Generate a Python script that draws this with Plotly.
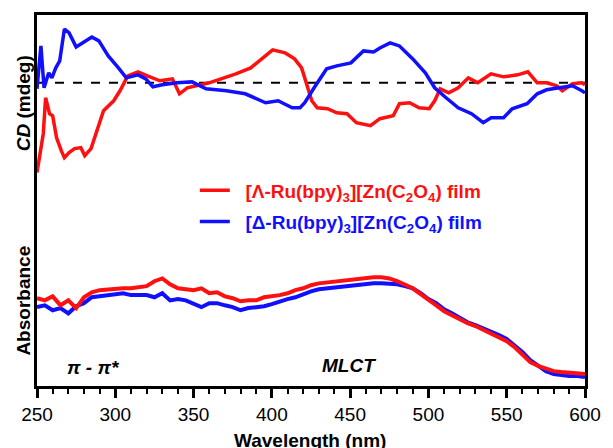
import plotly.graph_objects as go

# ---------------- data ----------------
# CD spectra (arbitrary mdeg scale, positive up)
cd_lambda_wl = [250, 252, 254, 255.5, 258, 260, 262.5, 265.5, 267.5, 270.5,
                274, 278, 280.5, 284.5, 287.5, 292.5, 299, 303, 308, 314.5,
                320.5, 328.5, 336.5, 341, 346, 352, 360, 367.5, 377, 386.5,
                394.5, 400.5, 408.5, 414.5, 419, 422, 425.5, 429, 435.5, 441.5,
                448, 454, 463, 469, 477.5, 481.5, 488, 494, 500.5, 504,
                507.5, 513, 519, 525.5, 531.5, 540, 548, 557, 563.5, 569.5,
                575.5, 582, 585.5, 592, 598, 600]
cd_lambda = [-9.0, -6.8, -5.1, -1.5, -3.1, -3.3, -5.5, -6.8, -7.5, -7.0,
             -6.6, -6.5, -7.3, -6.6, -5.1, -2.8, -1.8, -0.8, 0.7, 1.1,
             0.7, 0.2, 0.4, -1.1, -0.5, -0.3, 0.0, 0.4, 0.9, 1.5,
             2.5, 3.3, 3.0, 2.4, 1.5, -0.1, -1.8, -2.5, -2.6, -3.0,
             -3.1, -4.0, -4.3, -3.6, -3.3, -2.1, -2.0, -2.5, -2.6, -1.8,
             -0.6, -1.0, -0.5, 0.5, 0.0, 0.9, 0.6, 0.8, 1.1, 0.0,
             0.0, -0.3, -0.8, -0.1, 0.0, -0.2]

cd_delta_wl = [250, 252.5, 254.5, 257.5, 259.5, 262, 264.5, 267.5, 270.5, 275,
               279, 285, 289.5, 295.5, 302, 307, 314.5, 319.5, 324, 330,
               339.5, 349, 358, 371, 383, 396, 404, 413, 418, 421,
               427, 435, 441.5, 450.5, 458.5, 465, 469, 475.5, 481.5, 490,
               498, 504, 510.5, 519, 527.5, 535, 540, 548, 553.5, 563,
               569.5, 575.5, 583.5, 592, 598, 600]
cd_delta = [-0.6, 3.7, -0.5, 1.0, 0.5, 1.5, 2.2, 5.4, 5.0, 3.6,
            4.0, 4.6, 4.2, 2.7, 1.5, 0.5, 0.8, 0.4, -0.4, -0.2,
            0.0, 0.1, -0.6, -0.8, -1.1, -2.0, -1.8, -2.5, -2.5, -2.0,
            -0.5, 1.4, 1.7, 2.0, 3.2, 3.1, 3.5, 4.0, 3.7, 2.4,
            1.0, -0.5, -1.4, -2.5, -3.1, -4.0, -3.5, -3.5, -2.6, -2.1,
            -1.1, -0.7, -0.5, -0.3, -0.8, -1.0]

# Absorbance spectra (arbitrary units)
abs_wl = list(range(250, 601, 5))
abs_lambda = [0.284, 0.277, 0.290, 0.261, 0.277, 0.252, 0.287, 0.303, 0.310, 0.313,
              0.316, 0.316, 0.316, 0.319, 0.323, 0.339, 0.348, 0.329, 0.316, 0.313,
              0.310, 0.316, 0.300, 0.303, 0.290, 0.284, 0.274, 0.277, 0.277, 0.287,
              0.290, 0.294, 0.300, 0.310, 0.316, 0.326, 0.332, 0.335, 0.339, 0.339,
              0.342, 0.345, 0.348, 0.352, 0.352, 0.348, 0.339, 0.329, 0.316, 0.297,
              0.277, 0.261, 0.242, 0.229, 0.213, 0.203, 0.194, 0.181, 0.171, 0.158,
              0.145, 0.126, 0.100, 0.077, 0.065, 0.055, 0.048, 0.045, 0.042, 0.042,
              0.039]
abs_delta = [0.255, 0.261, 0.245, 0.252, 0.235, 0.258, 0.268, 0.287, 0.290, 0.294,
             0.297, 0.300, 0.294, 0.294, 0.294, 0.287, 0.300, 0.277, 0.281, 0.277,
             0.265, 0.255, 0.268, 0.268, 0.261, 0.255, 0.245, 0.252, 0.255, 0.258,
             0.265, 0.274, 0.281, 0.287, 0.297, 0.306, 0.313, 0.316, 0.319, 0.319,
             0.323, 0.326, 0.329, 0.332, 0.332, 0.332, 0.329, 0.323, 0.316, 0.300,
             0.281, 0.268, 0.248, 0.235, 0.219, 0.206, 0.197, 0.187, 0.177, 0.165,
             0.152, 0.132, 0.110, 0.084, 0.065, 0.048, 0.039, 0.035, 0.032, 0.032,
             0.029]

x_ticks = [250, 300, 350, 400, 450, 500, 550, 600]

name_lambda = "[Λ-Ru(bpy)<sub>3</sub>][Zn(C<sub>2</sub>O<sub>4</sub>) film"
name_delta = "[Δ-Ru(bpy)<sub>3</sub>][Zn(C<sub>2</sub>O<sub>4</sub>) film"

RED = "#ff1010"
BLUE = "#1010ff"
FONT = "Liberation Sans, Arial, Helvetica, sans-serif"
GAP = "\u00a0\u00a0"

# ---------------- figure ----------------
fig = go.Figure()

# absorbance (lower part)
fig.add_trace(go.Scatter(x=abs_wl, y=abs_delta, mode="lines",
                         line=dict(color=BLUE, width=4), showlegend=False))
fig.add_trace(go.Scatter(x=abs_wl, y=abs_lambda, mode="lines",
                         line=dict(color=RED, width=4), showlegend=False))

# CD (upper part)
fig.add_trace(go.Scatter(x=cd_lambda_wl, y=cd_lambda, mode="lines", yaxis="y2",
                         line=dict(color=RED, width=3.5),
                         name=f"<b><span style='color:{RED}'>{GAP}{name_lambda}</span></b>",
                         legend="legend"))
fig.add_trace(go.Scatter(x=cd_delta_wl, y=cd_delta, mode="lines", yaxis="y2",
                         line=dict(color=BLUE, width=3.5),
                         name=f"<b><span style='color:{BLUE}'>{GAP}{name_delta}</span></b>",
                         legend="legend2"))

# zero line of CD
fig.add_shape(type="line", xref="paper", x0=0, x1=1, yref="y2", y0=0, y1=0,
              line=dict(color="black", width=2, dash="dash"), layer="below")

legend_common = dict(bgcolor="rgba(0,0,0,0)", font=dict(family=FONT, size=19),
                     xanchor="left", yanchor="middle", itemwidth=30,
                     borderwidth=0)

fig.update_layout(
    width=613, height=448,
    margin=dict(l=37, r=17, t=14, b=62),
    paper_bgcolor="white", plot_bgcolor="white",
    font=dict(family=FONT, size=19, color="black"),
    xaxis=dict(range=[250, 600], tickvals=x_ticks, ticks="outside",
               ticklen=9, tickwidth=2.5, tickcolor="black",
               showline=True, linewidth=2.5, linecolor="black", mirror=True,
               showgrid=False, zeroline=False,
               tickfont=dict(family=FONT, size=19),
               minor=dict(dtick=10, ticks="outside", ticklen=5, tickwidth=2,
                          tickcolor="black", showgrid=False)),
    yaxis=dict(range=[0, 1.2], showticklabels=False, ticks="",
               showline=True, linewidth=2.5, linecolor="black", mirror=True,
               showgrid=False, zeroline=False),
    yaxis2=dict(range=[-30.4, 6.8], overlaying="y", visible=False,
                showgrid=False, zeroline=False),
    legend=dict(x=0.288, y=0.527, **legend_common),
    legend2=dict(x=0.288, y=0.443, **legend_common),
    showlegend=True,
)

annots = [
    dict(text="<b><i>CD</i> (mdeg)</b>", x=-0.023, y=0.763, textangle=-90),
    dict(text="<b>Absorbance</b>", x=-0.025, y=0.231, textangle=-90),
    dict(text="<b><i>π - π*</i></b>", x=0.104, y=0.051, textangle=0),
    dict(text="<b><i>MLCT</i></b>", x=0.569, y=0.054, textangle=0),
    dict(text="<b>Wavelength (nm)</b>", x=0.498, y=-0.148, textangle=0),
]
for a in annots:
    fig.add_annotation(xref="paper", yref="paper", showarrow=False,
                       xanchor="center", yanchor="middle",
                       font=dict(family=FONT, size=19, color="black"), **a)

fig.write_html("out.html",
               config={"displayModeBar": False},
               post_script="document.body.style.margin='0';"
                           "document.body.style.padding='0';"
                           "document.documentElement.style.overflow='hidden';")
